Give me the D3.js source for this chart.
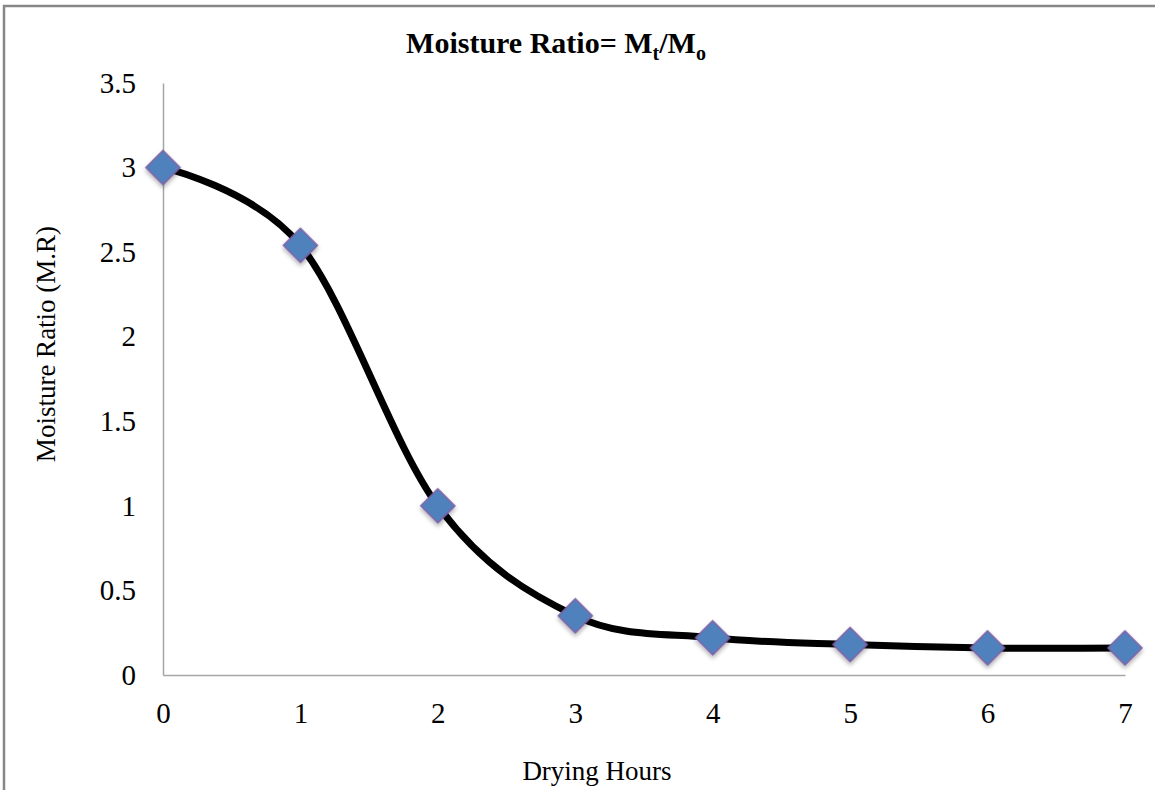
<!DOCTYPE html>
<html>
<head>
<meta charset="utf-8">
<script src="https://cdn.jsdelivr.net/npm/d3@7"></script>
<style>
  body { margin: 0; background: #fff; }
  text { font-family: "Liberation Serif", "Times New Roman", serif; fill: #000; }
</style>
</head>
<body>
<svg id="chart" width="1155" height="790"></svg>
<script>
const hours = [0, 1, 2, 3, 4, 5, 6, 7];
const moistureRatio = [3.0, 2.54, 1.0, 0.35, 0.22, 0.18, 0.16, 0.16];
const yTicks = [0, 0.5, 1, 1.5, 2, 2.5, 3, 3.5];

const serif = "'Liberation Serif', 'Times New Roman', serif";
const svg = d3.select("#chart");

// outer chart border (left + top only visible)
svg.append("path")
    .attr("d", "M4,790 V6 H1155")
    .attr("fill", "none")
    .attr("stroke", "#878787")
    .attr("stroke-width", 2.5);

const margin = { top: 83, right: 30, bottom: 115, left: 163 },
      width = 1125 - margin.left,
      height = 675 - margin.top;

const g = svg.append("g").attr("transform", `translate(${margin.left},${margin.top})`);

const x = d3.scaleLinear().domain([0, 7]).range([0, width]);
const y = d3.scaleLinear().domain([0, 3.5]).range([height, 0]);

// axes
const yAxis = g.append("g")
    .call(d3.axisLeft(y).tickValues(yTicks).tickSize(0).tickPadding(27).tickFormat(d => d));
const xAxis = g.append("g")
    .attr("transform", `translate(0,${height})`)
    .call(d3.axisBottom(x).tickValues(hours).tickSize(0).tickPadding(27).tickFormat(d3.format("d")));

[xAxis, yAxis].forEach(a => {
    a.select(".domain").attr("stroke", "#a6a6a6").attr("stroke-width", 1.5);
    a.selectAll("text").style("font-size", "29px").style("font-family", serif);
});

// smooth line
const line = d3.line()
    .x((d, i) => x(hours[i]))
    .y(d => y(d))
    .curve(d3.curveCardinal.tension(0));

g.append("path")
    .datum(moistureRatio)
    .attr("d", line)
    .attr("fill", "none")
    .attr("stroke", "#000")
    .attr("stroke-width", 7)
    .attr("stroke-linejoin", "round");

// drop shadow for markers
const defs = svg.append("defs");
const f = defs.append("filter").attr("id", "shadow").attr("x", "-50%").attr("y", "-50%").attr("width", "200%").attr("height", "200%");
f.append("feDropShadow").attr("dx", 2).attr("dy", 2).attr("stdDeviation", 2).attr("flood-color", "#000").attr("flood-opacity", 0.3);

const sym = d3.symbol().type(d3.symbolSquare).size(580);
g.selectAll(".marker")
    .data(moistureRatio)
    .enter().append("path")
    .attr("class", "marker")
    .attr("d", sym)
    .attr("transform", (d, i) => `translate(${x(hours[i])},${y(d)}) rotate(45)`)
    .attr("fill", "#4f81bd")
    .attr("stroke", "#7d5fa5")
    .attr("stroke-width", 1.5)
    .attr("filter", "url(#shadow)");

// title
const title = svg.append("text")
    .attr("x", 556)
    .attr("y", 53)
    .attr("text-anchor", "middle")
    .style("font-family", serif)
    .style("font-size", "30px")
    .style("font-weight", "bold");
title.append("tspan").text("Moisture Ratio=  M");
title.append("tspan").attr("dy", 7).style("font-size", "20px").text("t");
title.append("tspan").attr("dy", -7).text("/M");
title.append("tspan").attr("dy", 7).style("font-size", "20px").text("o");

// axis titles
svg.append("text")
    .attr("x", 597)
    .attr("y", 780)
    .attr("text-anchor", "middle")
    .style("font-family", serif)
    .style("font-size", "27px")
    .text("Drying Hours");

svg.append("text")
    .attr("transform", "translate(55,344) rotate(-90)")
    .attr("text-anchor", "middle")
    .style("font-family", serif)
    .style("font-size", "27px")
    .text("Moisture Ratio (M.R)");
</script>
</body>
</html>
